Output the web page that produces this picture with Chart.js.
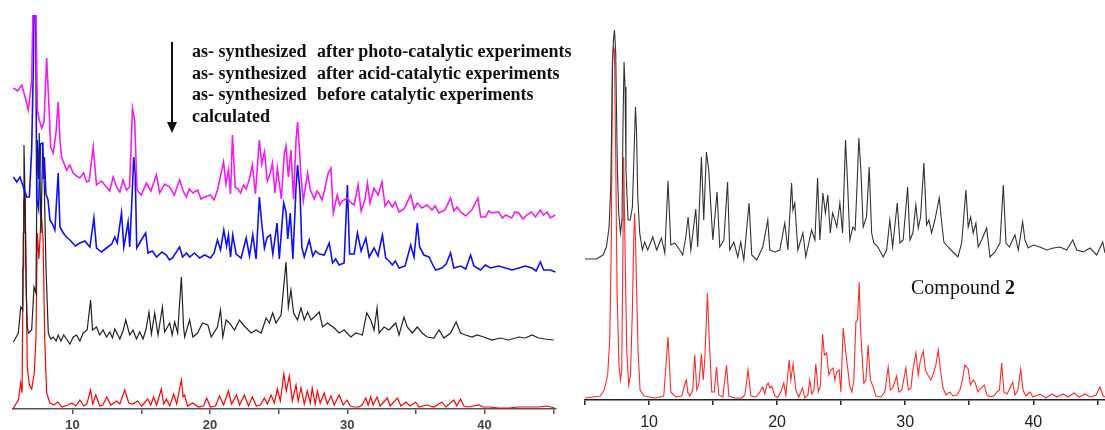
<!DOCTYPE html>
<html>
<head>
<meta charset="utf-8">
<script src="https://cdn.jsdelivr.net/npm/chart.js@4.4.0/dist/chart.umd.min.js"></script>
<style>
  body { margin: 0; background: #fff; width: 1105px; height: 430px; position: relative; overflow: hidden; }
  canvas { position: absolute; top: 0; }
  #leftChart { left: 0; }
  #rightChart { left: 580px; }
  .note { position: absolute; font-family: "Liberation Serif", serif; font-weight: bold; font-size: 18px; line-height: 21.5px; white-space: nowrap; color: #111; }
  #compound { position: absolute; left: 911px; top: 276px; font-family: "Liberation Serif", serif; font-size: 20px; color: #111; white-space: nowrap; }
  #arrow { position: absolute; left: 166px; top: 42px; }
</style>
</head>
<body>
<canvas id="leftChart" width="560" height="430"></canvas>
<canvas id="rightChart" width="525" height="430"></canvas>

<svg id="arrow" width="12" height="92">
  <line x1="6" y1="0" x2="6" y2="84" stroke="#111" stroke-width="2"/>
  <polygon points="1,80 11,80 6,91" fill="#111"/>
</svg>
<div class="note" style="left:192px; top:41px;">as- synthesized<br>as- synthesized<br>as- synthesized<br>calculated</div>
<div class="note" style="left:317px; top:41px;">after photo-catalytic experiments<br>after acid-catalytic experiments<br>before catalytic experiments</div>
<div id="compound">Compound <b>2</b></div>

<script>
// 2-theta (deg) vs intensity (a.u., stacked with offsets as in the figure)

// left panel: as-synthesized after photo-catalytic experiments (magenta)
const photoCatalytic = [
  [5.69,321],[6.00,318],[6.30,324],[6.54,312],[6.78,299],[7.02,329],[7.14,420],[7.31,420],[7.43,300],[7.57,289],[7.75,281],
  [7.92,287],[8.11,351],[8.30,296],[8.40,262],[8.59,256],[8.79,276],[8.95,307],[9.08,269],[9.20,252],[9.56,239],
  [9.80,244],[10.04,236],[10.30,233],[10.53,231],[10.80,236],[11.02,227],[11.20,228],[11.50,262],[11.74,224],[12.10,228],
  [12.47,222],[12.70,218],[12.95,232],[13.20,222],[13.44,217],[13.67,229],[13.92,219],[14.15,222],
  [14.36,301],[14.52,289],[14.69,219],[15.00,214],[15.37,226],[15.70,218],[16.10,234],[16.34,216],[16.70,225],[17.07,222],
  [17.40,214],[17.79,229],[18.05,218],[18.28,212],[18.50,220],[18.76,216],
  [19.10,219],[19.35,210],[19.61,212],[20.04,214],[20.30,209],[20.55,219],[20.99,247],[21.17,225],[21.35,239],[21.50,215],[21.64,274],[21.84,222],
  [22.05,220],[22.22,216],[22.45,224],[22.64,220],[22.88,230],[23.09,244],[23.31,215],[23.60,269],[23.77,245],[23.97,257],[24.18,228],[24.40,236],
  [24.55,246],[24.74,216],[24.91,241],[25.20,210],[25.42,256],[25.54,263],[25.71,232],[25.90,259],[26.09,210],[26.27,269],
  [26.38,287],[26.51,262],[26.63,232],[26.80,208],[27.11,236],[27.31,219],[27.60,210],[27.80,218],[27.96,215],[28.15,209],[28.32,217],[28.61,236],
  [28.81,241],[28.98,196],[29.27,214],[29.45,204],[29.63,208],[29.99,211],[30.28,206],[30.50,204],[30.79,224],[31.01,198],[31.30,210],
  [31.47,226],[31.66,206],[31.95,221],[32.24,214],[32.53,227],[32.75,203],[33.00,208],[33.28,202],[33.50,207],[33.77,197],[34.13,200],[34.62,214],
  [34.86,200],[35.10,206],[35.44,201],[35.80,204],[36.17,199],[36.40,203],[36.68,196],[37.11,199],[37.52,211],[37.76,198],[38.00,202],[38.25,197],
  [38.63,193],[39.07,199],[39.51,211],[39.72,192],[40.07,192],[40.30,198],[40.52,196],[41.03,197],[41.30,191],[41.54,194],[41.98,191],[42.20,197],[42.49,196],
  [42.80,190],[43.07,194],[43.40,197],[43.70,192],[44.06,199],[44.30,194],[44.55,197],[44.79,191],[45.15,194]
];

// left panel: as-synthesized after acid-catalytic experiments (blue)
const acidCatalytic = [
  [5.69,232],[5.93,227],[6.17,232],[6.41,222],[6.66,212],[6.85,212],[7.02,259],[7.14,342],[7.21,420],[7.30,420],
  [7.39,209],[7.52,200],[7.66,265],[7.82,266],[7.88,230],[7.94,252],[8.06,215],[8.21,209],[8.35,189],[8.53,185],
  [8.71,179],[8.95,236],[9.08,182],[9.32,176],[9.55,172],[9.80,169],[10.20,163],[10.53,166],[10.90,168],[11.26,162],[11.55,191],[11.74,161],
  [12.10,157],[12.47,161],[12.85,165],[13.07,172],[13.25,166],[13.56,196],[13.73,162],[14.04,187],[14.16,162],[14.36,222],[14.45,252],[14.56,235],
  [14.67,161],[14.96,168],[15.32,176],[15.49,156],[15.80,158],[16.12,152],[16.50,157],[16.83,154],[17.05,149],[17.28,151],[17.79,162],[18.01,152],[18.30,156],[18.52,152],
  [18.88,156],[19.25,151],[19.61,154],[20.04,151],[20.30,156],[20.55,169],[20.77,159],[21.01,179],[21.21,163],[21.35,174],[21.50,152],
  [21.66,174],[21.91,155],[22.27,151],[22.64,171],[22.88,153],[23.12,174],[23.36,150],[23.60,212],[23.77,186],[23.97,161],
  [24.18,172],[24.40,174],[24.58,155],[24.89,186],[25.05,150],[25.37,206],[25.54,197],[25.67,170],[25.85,196],[26.04,150],
  [26.27,222],[26.38,244],[26.56,217],[26.69,162],[26.87,152],[27.23,169],[27.49,153],[27.70,158],[27.96,155],[28.32,154],[28.69,166],
  [28.93,146],[29.15,150],[29.41,144],[29.77,146],[30.01,224],[30.17,155],[30.50,155],[30.74,176],[31.01,158],[31.35,171],[31.59,152],
  [31.95,161],[32.24,153],[32.56,174],[32.80,151],[33.05,148],[33.28,144],[33.50,148],[33.77,141],[34.21,143],[34.62,164],[34.86,152],[35.10,186],
  [35.27,162],[35.58,154],[35.95,152],[36.20,145],[36.43,139],[36.89,141],[37.20,145],[37.52,156],[37.76,141],[38.25,143],[38.63,140],[38.98,154],
  [39.22,143],[39.70,139],[40.05,144],[40.43,141],[41.03,143],[41.52,141],[42.00,139],[42.49,141],[42.97,143],[43.45,141],[43.75,138],[44.06,147],
  [44.30,139],[44.79,139],[45.15,137]
];

// left panel: as-synthesized before catalytic experiments (black)
const beforeCatalytic = [
  [5.69,67],[6.05,76],[6.22,102],[6.37,99],[6.41,176],[6.46,264],[6.54,209],[6.61,126],[6.70,82],[6.78,76],[7.02,79],[7.19,122],[7.33,116],
  [7.43,269],[7.52,230],[7.57,276],[7.70,176],[7.82,266],[7.94,222],[8.06,142],[8.23,76],[8.40,70],[8.59,72],[8.80,68],[8.95,74],
  [9.15,68],[9.35,74],[9.56,70],[9.80,65],[10.05,72],[10.29,74],[10.53,68],[10.77,76],[11.06,79],[11.31,109],[11.45,79],[11.74,82],
  [11.98,74],[12.22,79],[12.47,72],[12.71,77],[12.90,71],[13.07,80],[13.44,70],[13.67,78],[13.87,89],[14.16,74],[14.40,79],[14.65,70],
  [14.89,77],[15.13,70],[15.35,80],[15.56,97],[15.74,75],[15.98,96],[16.22,74],[16.54,102],[16.70,77],[17.07,86],[17.25,74],[17.43,87],
  [17.65,76],[17.92,132],[18.08,82],[18.16,72],[18.52,89],[18.76,72],[19.10,76],[19.46,86],[19.85,84],[20.09,72],
  [20.55,82],[20.77,99],[20.94,72],[21.18,89],[21.42,86],[21.79,79],[22.15,89],[22.51,83],[23.00,76],[23.36,79],
  [23.73,76],[24.09,91],[24.33,86],[24.57,96],[24.81,86],[25.18,94],[25.54,147],[25.71,102],[25.90,119],[26.09,96],
  [26.38,89],[26.63,101],[26.87,89],[27.11,97],[27.36,89],[27.60,92],[27.96,97],[28.20,82],[28.56,86],[29.05,81],
  [29.41,76],[29.77,79],[30.26,72],[30.62,76],[31.10,74],[31.42,96],[31.71,89],[31.95,79],[32.17,101],[32.32,76],
  [32.68,82],[33.04,79],[33.53,86],[33.77,74],[34.13,92],[34.37,82],[34.73,76],[35.10,82],[35.46,76],[35.82,72],
  [36.31,71],[36.68,79],[37.04,71],[37.52,76],[37.93,87],[38.25,76],[38.61,74],[39.09,72],[39.45,74],[39.94,72],
  [40.54,69],[41.15,71],[41.76,69],[42.49,72],[42.97,71],[43.45,74],[43.94,71],[44.42,70],[45.03,69]
];

// left panel: calculated (red)
const calculatedLeft = [
  [5.69,1],[6.05,9],[6.22,26],[6.32,16],[6.39,142],[6.44,209],[6.54,212],[6.61,142],[6.70,42],[6.85,24],[7.02,20],[7.21,36],
  [7.33,70],[7.43,176],[7.55,150],[7.72,196],[7.85,170],[7.97,70],[8.11,16],[8.35,6],[8.64,4],[8.93,7],
  [9.22,2],[9.66,4],[9.95,6],[10.24,3],[10.53,9],[10.82,3],[11.04,5],[11.31,19],[11.47,5],[11.69,14],
  [11.98,3],[12.20,4],[12.49,12],[12.78,4],[13.20,8],[13.44,5],[13.80,19],[14.09,6],[14.38,5],[14.74,8],
  [15.03,3],[15.47,10],[15.69,4],[15.90,12],[16.12,4],[16.46,20],[16.63,5],[16.83,10],[17.07,3],[17.36,15],
  [17.58,5],[17.92,29],[18.05,12],[18.16,14],[18.37,3],[18.74,6],[19.17,2],[19.54,3],[19.76,11],[20.04,2],
  [20.41,3],[20.70,13],[20.99,4],[21.35,18],[21.57,5],[21.94,14],[22.15,4],[22.51,14],[22.81,3],[23.09,12],
  [23.38,3],[23.67,4],[23.97,11],[24.18,5],[24.45,14],[24.69,6],[24.91,20],[25.13,8],[25.38,35],[25.56,18],
  [25.78,33],[26.00,8],[26.27,24],[26.43,8],[26.63,21],[26.87,5],[27.09,18],[27.31,6],[27.45,21],[27.67,5],
  [27.82,18],[28.03,6],[28.32,16],[28.54,5],[28.81,13],[29.05,4],[29.41,14],[29.70,4],[29.99,9],[30.21,3],
  [30.50,2],[30.86,2],[31.08,4],[31.35,11],[31.52,4],[31.71,12],[31.88,4],[32.17,12],[32.39,3],[32.92,11],
  [33.12,3],[33.65,11],[33.91,3],[34.28,7],[34.57,3],[34.98,7],[35.22,2],[35.80,4],[36.31,2],[36.89,7],
  [37.18,2],[37.76,9],[37.98,3],[38.25,10],[38.49,3],[38.85,2],[39.58,4],[39.87,2],[40.30,2],[41.03,1],
  [41.76,1],[42.49,2],[43.22,2],[43.94,2],[44.52,3],[45.10,1]
];

// right panel: Compound 2 experimental (black)
const compoundExp = [
  [5.00,141],[5.89,141],[6.41,145],[6.67,153],[6.88,173],[7.01,213],[7.09,280],[7.14,330],[7.22,360],[7.30,370],
  [7.40,347],[7.45,297],[7.53,230],[7.63,187],[7.77,167],[7.89,180],[7.97,280],[8.05,338],[8.13,313],[8.20,230],
  [8.36,180],[8.53,180],[8.70,193],[8.83,247],[8.94,293],[9.02,270],[9.12,203],[9.27,167],[9.48,150],[9.66,158],
  [9.90,150],[10.29,163],[10.60,150],[10.97,162],[11.23,147],[11.48,219],[11.70,155],[12.01,157],[12.40,150],[12.63,145],
  [12.87,163],[13.05,183],[13.26,150],[13.65,191],[13.80,153],[14.09,243],[14.27,180],[14.48,248],[14.66,230],[14.98,160],
  [15.31,208],[15.52,153],[15.84,160],[16.13,218],[16.30,150],[16.62,158],[16.93,143],[17.16,158],[17.40,140],[17.81,197],
  [18.02,145],[18.41,140],[18.88,153],[19.27,180],[19.43,150],[19.82,148],[20.21,150],[20.60,177],[20.84,150],[21.13,217],
  [21.23,190],[21.38,197],[21.62,150],[22.01,167],[22.24,143],[22.69,170],[22.95,160],[23.16,222],[23.34,160],[23.57,207],
  [23.77,187],[23.96,205],[24.15,167],[24.33,187],[24.51,180],[24.66,173],[24.90,197],[25.11,167],[25.34,260],[25.50,217],
  [25.68,160],[25.91,173],[26.09,170],[26.25,217],[26.38,262],[26.54,230],[26.72,173],[26.98,183],[27.19,233],[27.38,167],
  [27.55,157],[27.87,153],[28.28,143],[28.55,150],[28.80,180],[29.02,153],[29.38,197],[29.59,157],[29.84,160],[30.19,213],
  [30.37,160],[30.60,167],[30.83,195],[31.02,172],[31.20,183],[31.46,237],[31.67,175],[31.85,180],[32.06,167],[32.32,180],
  [32.66,202],[32.87,175],[33.02,158],[33.34,153],[33.73,148],[34.12,143],[34.41,157],[34.74,210],[34.92,173],[35.11,183],
  [35.31,167],[35.52,177],[35.70,153],[35.97,160],[36.36,172],[36.62,143],[37.01,148],[37.40,157],[37.66,215],[37.87,157],
  [38.13,153],[38.57,165],[38.83,150],[39.17,178],[39.35,160],[39.61,152],[40.00,155],[40.52,153],[41.05,150],[41.56,152],
  [42.09,153],[42.61,150],[43.08,160],[43.39,150],[43.91,148],[44.43,152],[44.95,145],[45.42,158],[45.60,147]
];

// right panel: Compound 2 calculated (red)
const compoundCalc = [
  [5.00,2],[6.20,4],[6.50,10],[6.77,25],[6.93,60],[7.06,160],[7.14,340],[7.22,353],[7.30,350],[7.40,240],
  [7.50,110],[7.65,35],[7.77,20],[7.87,30],[7.98,180],[8.02,243],[8.10,170],[8.26,50],[8.41,15],[8.55,25],
  [8.70,90],[8.80,160],[8.88,187],[8.96,150],[9.14,50],[9.30,10],[9.62,4],[10.45,2],[11.15,4],[11.48,63],[11.70,8],[12.09,3],[12.55,4],[12.84,18],
  [12.92,20],[13.02,8],[13.18,4],[13.41,10],[13.57,45],[13.73,10],[13.88,15],[14.09,46],[14.23,20],[14.35,40],
  [14.56,107],[14.70,60],[14.90,8],[15.09,8],[15.27,33],[15.45,5],[15.76,3],[16.05,35],[16.23,4],[16.70,2],
  [17.24,2],[17.48,5],[17.73,30],[17.95,4],[18.34,3],[18.65,8],[18.86,13],[19.04,6],[19.20,15],[19.30,17],
  [19.43,12],[19.59,14],[19.82,4],[20.05,3],[20.29,8],[20.52,17],[20.68,5],[20.94,40],[21.07,20],[21.25,36],
  [21.46,10],[21.70,3],[21.98,12],[22.16,2],[22.40,5],[22.55,20],[22.71,6],[22.87,10],[23.02,36],[23.22,8],
  [23.38,14],[23.55,66],[23.69,45],[23.86,47],[24.04,25],[24.20,30],[24.38,32],[24.51,20],[24.66,28],[24.84,30],
  [24.98,8],[25.16,72],[25.34,50],[25.48,35],[25.68,13],[25.84,8],[25.99,20],[26.15,78],[26.27,80],[26.41,118],
  [26.50,75],[26.59,53],[26.77,17],[26.93,20],[27.11,55],[27.28,20],[27.50,13],[27.71,4],[28.10,3],[28.41,8],
  [28.67,33],[28.84,10],[29.04,12],[29.33,24],[29.51,8],[29.74,10],[30.05,32],[30.25,10],[30.45,12],[30.60,30],
  [30.84,47],[31.02,25],[31.19,40],[31.41,49],[31.58,30],[31.77,25],[32.01,20],[32.24,28],[32.40,35],[32.58,50],
  [32.75,30],[32.95,12],[33.18,5],[33.49,8],[33.73,4],[34.04,5],[34.27,10],[34.47,20],[34.66,35],[34.92,31],
  [35.09,15],[35.29,20],[35.45,18],[35.68,8],[35.91,12],[36.17,15],[36.38,5],[36.62,3],[36.93,4],[37.16,8],
  [37.36,10],[37.53,37],[37.71,8],[37.95,6],[38.18,12],[38.39,18],[38.57,5],[38.80,10],[39.02,31],[39.20,10],
  [39.43,4],[39.74,8],[39.98,3],[40.52,6],[40.99,2],[41.46,6],[41.85,3],[42.32,6],[42.71,3],[43.18,7],
  [43.57,3],[44.04,6],[44.43,3],[44.90,5],[45.21,13],[45.45,4],[45.60,3]
];

const xTicks = [10, 20, 30, 40];

function toPoints(arr) {
  return arr.map((p) => ({ x: p[0], y: p[1] }));
}

function trace(data, color, width, order) {
  return {
    data: toPoints(data),
    borderColor: color,
    borderWidth: width,
    pointRadius: 0,
    tension: 0,
    fill: false,
    order: order,
  };
}

function xrdOptions(xMin, xMax, yMax, axisHeight, pad, tickPad, tickFont, tickColor, axisColor) {
  return {
    responsive: false,
    animation: false,
    layout: { padding: pad },
    plugins: { legend: { display: false }, tooltip: { enabled: false } },
    scales: {
      x: {
        type: "linear",
        min: xMin,
        max: xMax,
        afterFit: (scale) => {
          scale.height = axisHeight;
          scale.paddingLeft = 0;
          scale.paddingRight = 0;
        },
        grid: { drawOnChartArea: false, drawTicks: true, tickLength: 5, color: axisColor, lineWidth: 1.5 },
        border: { display: true, color: axisColor, width: 1.5 },
        ticks: {
          stepSize: 5,
          includeBounds: false,
          autoSkip: false,
          maxRotation: 0,
          padding: tickPad,
          color: tickColor,
          font: tickFont,
          callback: (v) => (xTicks.includes(v) ? String(v) : ""),
        },
      },
      y: { display: false, min: 0, max: yMax },
    },
  };
}

new Chart(document.getElementById("leftChart"), {
  type: "line",
  data: {
    datasets: [
      trace(photoCatalytic, "#f21cf2", 1.6, 1),
      trace(acidCatalytic, "#1010f5", 1.6, 2),
      trace(beforeCatalytic, "#222222", 1.2, 3),
      trace(calculatedLeft, "#ff0000", 1.2, 4),
    ],
  },
  options: xrdOptions(5.66, 45.2, 394, 21, { left: 13, right: 4, top: 15, bottom: 0 }, 4,
    { family: "Liberation Sans", size: 13, weight: "bold" }, "#444", "#555"),
});

new Chart(document.getElementById("rightChart"), {
  type: "line",
  data: {
    datasets: [
      trace(compoundExp, "#333333", 1.1, 1),
      trace(compoundCalc, "#ff2a2a", 1.1, 2),
    ],
  },
  options: xrdOptions(5.0, 45.6, 400, 30, { left: 5, right: 0, top: 0, bottom: 0 }, 8,
    { family: "Liberation Sans", size: 16 }, "#222", "#222"),
});
</script>
</body>
</html>
